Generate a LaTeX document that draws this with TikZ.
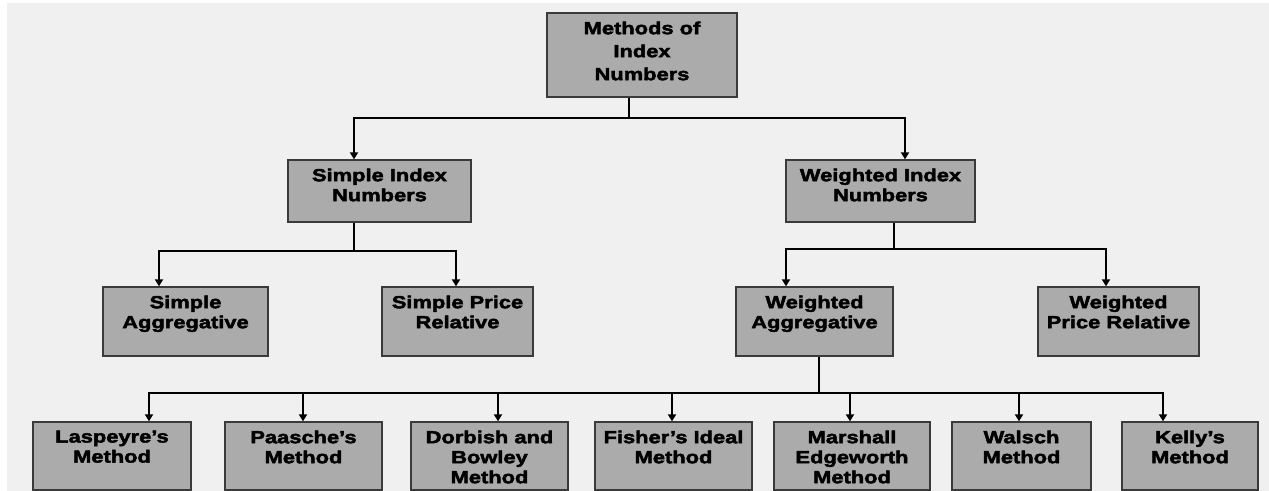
\documentclass[tikz,border=0pt]{standalone}
\usepackage{fontspec}
\usepackage{tikz}
\usetikzlibrary{arrows.meta}
\newfontfamily\boxfont{Liberation Sans Bold}[FakeStretch=1.25,FakeBold=2.5]
\definecolor{bgrey}{HTML}{F0F0F0}
\definecolor{boxfill}{HTML}{ABABAB}
\definecolor{boxline}{HTML}{3A3A3A}
\tikzset{
  box/.style={draw=boxline, fill=boxfill, line width=1.3bp, inner sep=0pt},
  boxtext/.style={below=9bp, align=center, inner sep=0pt,
    font=\boxfont\fontsize{17.5bp}{20bp}\selectfont},
  conn/.style={line width=2bp, black},
  arr/.style={conn, -{Triangle[width=8bp,length=7bp]}}
}

\begin{document}
\begin{tikzpicture}[x=1bp, y=1bp]
\useasboundingbox (0,0) rectangle (1269,-491);
\fill[white] (0,0) rectangle (1269,-491);
\fill[bgrey] (7,-3) rectangle (1269,-491);

\node[box, minimum width=190bp, minimum height=84bp,
  label={[boxtext, font=\boxfont\fontsize{17.5bp}{23bp}\selectfont]north:Methods of\\Index\\Numbers}] (root) at (642,-55) {};

\node[box, minimum width=183bp, minimum height=62bp,
  label={[boxtext]north:Simple Index\\Numbers}] (sidx) at (379.5,-191) {};
\node[box, minimum width=189bp, minimum height=62bp,
  label={[boxtext]north:Weighted Index\\Numbers}] (widx) at (880.5,-191) {};

\node[box, minimum width=165bp, minimum height=69bp,
  label={[boxtext]north:Simple\\Aggregative}] (sagg) at (185.5,-321.5) {};
\node[box, minimum width=151bp, minimum height=69bp,
  label={[boxtext]north:Simple Price\\Relative}] (sprel) at (457.5,-321.5) {};
\node[box, minimum width=157bp, minimum height=69bp,
  label={[boxtext]north:Weighted\\Aggregative}] (wagg) at (814.5,-321.5) {};
\node[box, minimum width=161bp, minimum height=69bp,
  label={[boxtext]north:Weighted\\Price Relative}] (wprel) at (1118.5,-321.5) {};

\node[box, minimum width=158bp, minimum height=68bp,
  label={[boxtext]north:Laspeyre’s\\Method}] (lasp) at (112,-456) {};
\node[box, minimum width=157bp, minimum height=68bp,
  label={[boxtext]north:Paasche’s\\Method}] (paas) at (303.5,-456) {};
\node[box, minimum width=157bp, minimum height=68bp,
  label={[boxtext]north:Dorbish and\\Bowley\\Method}] (dorb) at (489.5,-456) {};
\node[box, minimum width=157bp, minimum height=68bp,
  label={[boxtext]north:Fisher’s Ideal\\Method}] (fish) at (673.5,-456) {};
\node[box, minimum width=156bp, minimum height=68bp,
  label={[boxtext]north:Marshall\\Edgeworth\\Method}] (mars) at (852,-456) {};
\node[box, minimum width=139bp, minimum height=68bp,
  label={[boxtext]north:Walsch\\Method}] (wals) at (1021.5,-456) {};
\node[box, minimum width=136bp, minimum height=68bp,
  label={[boxtext]north:Kelly’s\\Method}] (kell) at (1190,-456) {};

\draw[conn] ([xshift=-13bp]root.south) -- ++(0,-20) coordinate (bus1);
\draw[arr] (bus1) -| ([xshift=-25.5bp]sidx.north);
\draw[arr] (bus1) -| ([xshift=24.5bp]widx.north);

\draw[conn] ([xshift=-25.5bp]sidx.south) -- ++(0,-28) coordinate (bus2);
\draw[arr] (bus2) -| ([xshift=-26.5bp]sagg.north);
\draw[arr] (bus2) -| ([xshift=-1.5bp]sprel.north);

\draw[conn] ([xshift=13.5bp]widx.south) -- ++(0,-26) coordinate (bus3);
\draw[arr] (bus3) -| ([xshift=-28.5bp]wagg.north);
\draw[arr] (bus3) -| ([xshift=-12.5bp]wprel.north);

\draw[conn] ([xshift=4.5bp]wagg.south) -- ++(0,-36) coordinate (bus4);
\draw[arr] (bus4) -| ([xshift=37bp]lasp.north);
\draw[arr] (bus4) -| ([xshift=-0.5bp]paas.north);
\draw[arr] (bus4) -| ([xshift=8.5bp]dorb.north);
\draw[arr] (bus4) -| ([xshift=-1.5bp]fish.north);
\draw[arr] (bus4) -| ([xshift=-2bp]mars.north);
\draw[arr] (bus4) -| ([xshift=-2.5bp]wals.north);
\draw[arr] (bus4) -| ([xshift=-27bp]kell.north);
\end{tikzpicture}
\end{document}
